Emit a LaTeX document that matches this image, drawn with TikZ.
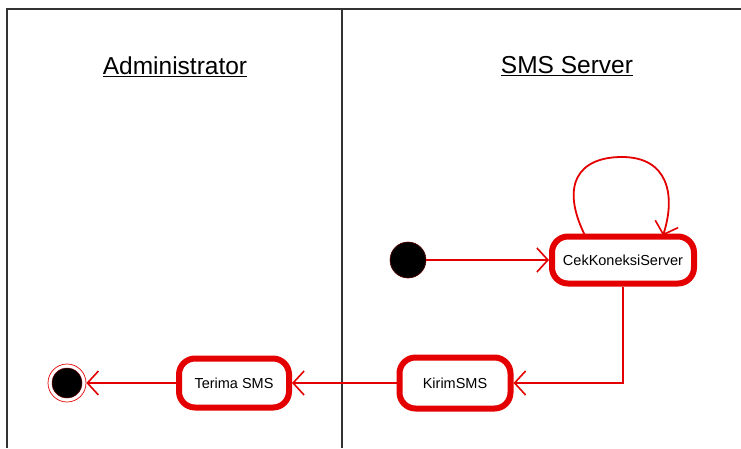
\documentclass[tikz,border=0pt]{standalone}
\usepackage{fontspec}
\setmainfont{Liberation Sans}
\usetikzlibrary{arrows.meta,calc}
\definecolor{umlred}{RGB}{228,0,0}
\definecolor{frame}{RGB}{50,50,50}
\tikzset{
  lane/.style={draw=frame,line width=1.4pt},
  actbox/.style={draw=umlred,line width=6pt,rounded corners=16pt,fill=white,
    font=\fontsize{14.5}{16}\selectfont,inner sep=0pt,align=center},
  conn/.style={draw=umlred,line width=1.8pt,
    -{Straight Barb[length=11pt,width=24pt,line width=1.6pt]}},
  title/.style={font=\fontsize{24.5}{28}\selectfont,inner sep=0pt}
}
\begin{document}
\begin{tikzpicture}[x=1pt,y=-1pt]
\useasboundingbox[fill=white] (0,0) rectangle (741,448);
% swimlane frame
\coordinate (tl) at (7,9);
\coordinate (tr) at (741,9);
\coordinate (bl) at (7,448);
\coordinate (tm) at (342,9);
\coordinate (bm) at (342,448);
\draw[lane] (bl) -- (tl) -- (tr);
\draw[lane] (tm) -- (bm);
% lane titles
\node[title] (admin) at (175,67) {\underline{Administrator}};
\node[title] (server) at (567,66) {\underline{SMS Server}};
% nodes
\node[circle,fill=black,draw=umlred!40!black,line width=0.6pt,minimum size=36pt,inner sep=0pt] (init) at (408,260) {};
\node[actbox,minimum width=142pt,minimum height=47pt] (cek) at (623,260) {CekKoneksiServer};
\node[actbox,minimum width=111pt,minimum height=51pt] (kirim) at (455,383) {KirimSMS};
\node[actbox,minimum width=110pt,minimum height=49pt] (terima) at (234,383) {Terima SMS};
\node[circle,draw=umlred,line width=0.7pt,fill=white,minimum size=38pt,inner sep=0pt] (final) at (67,383) {};
\node[circle,fill=black,draw=umlred!50!black,line width=0.5pt,minimum size=30pt,inner sep=0pt] (finalin) at (final) {};
% connectors
\draw[conn] (init) -- (cek.west);
\coordinate (l1) at ($(cek.north)+(-38,2)$);
\coordinate (l2) at ($(cek.north)+(40,2)$);
\draw[conn] (l1) .. controls (560,185) and (578,157) .. (622,157)
  .. controls (668,157) and (676,195) .. (l2);
\coordinate (bend) at ($(cek.south)+(0,100)$);
\draw[conn] (cek.south) -- (bend |- kirim.east) -- (kirim.east);
\draw[conn] (kirim.west) -- (terima.east);
\draw[conn] (terima.west) -- (final.east);
\end{tikzpicture}
\end{document}
